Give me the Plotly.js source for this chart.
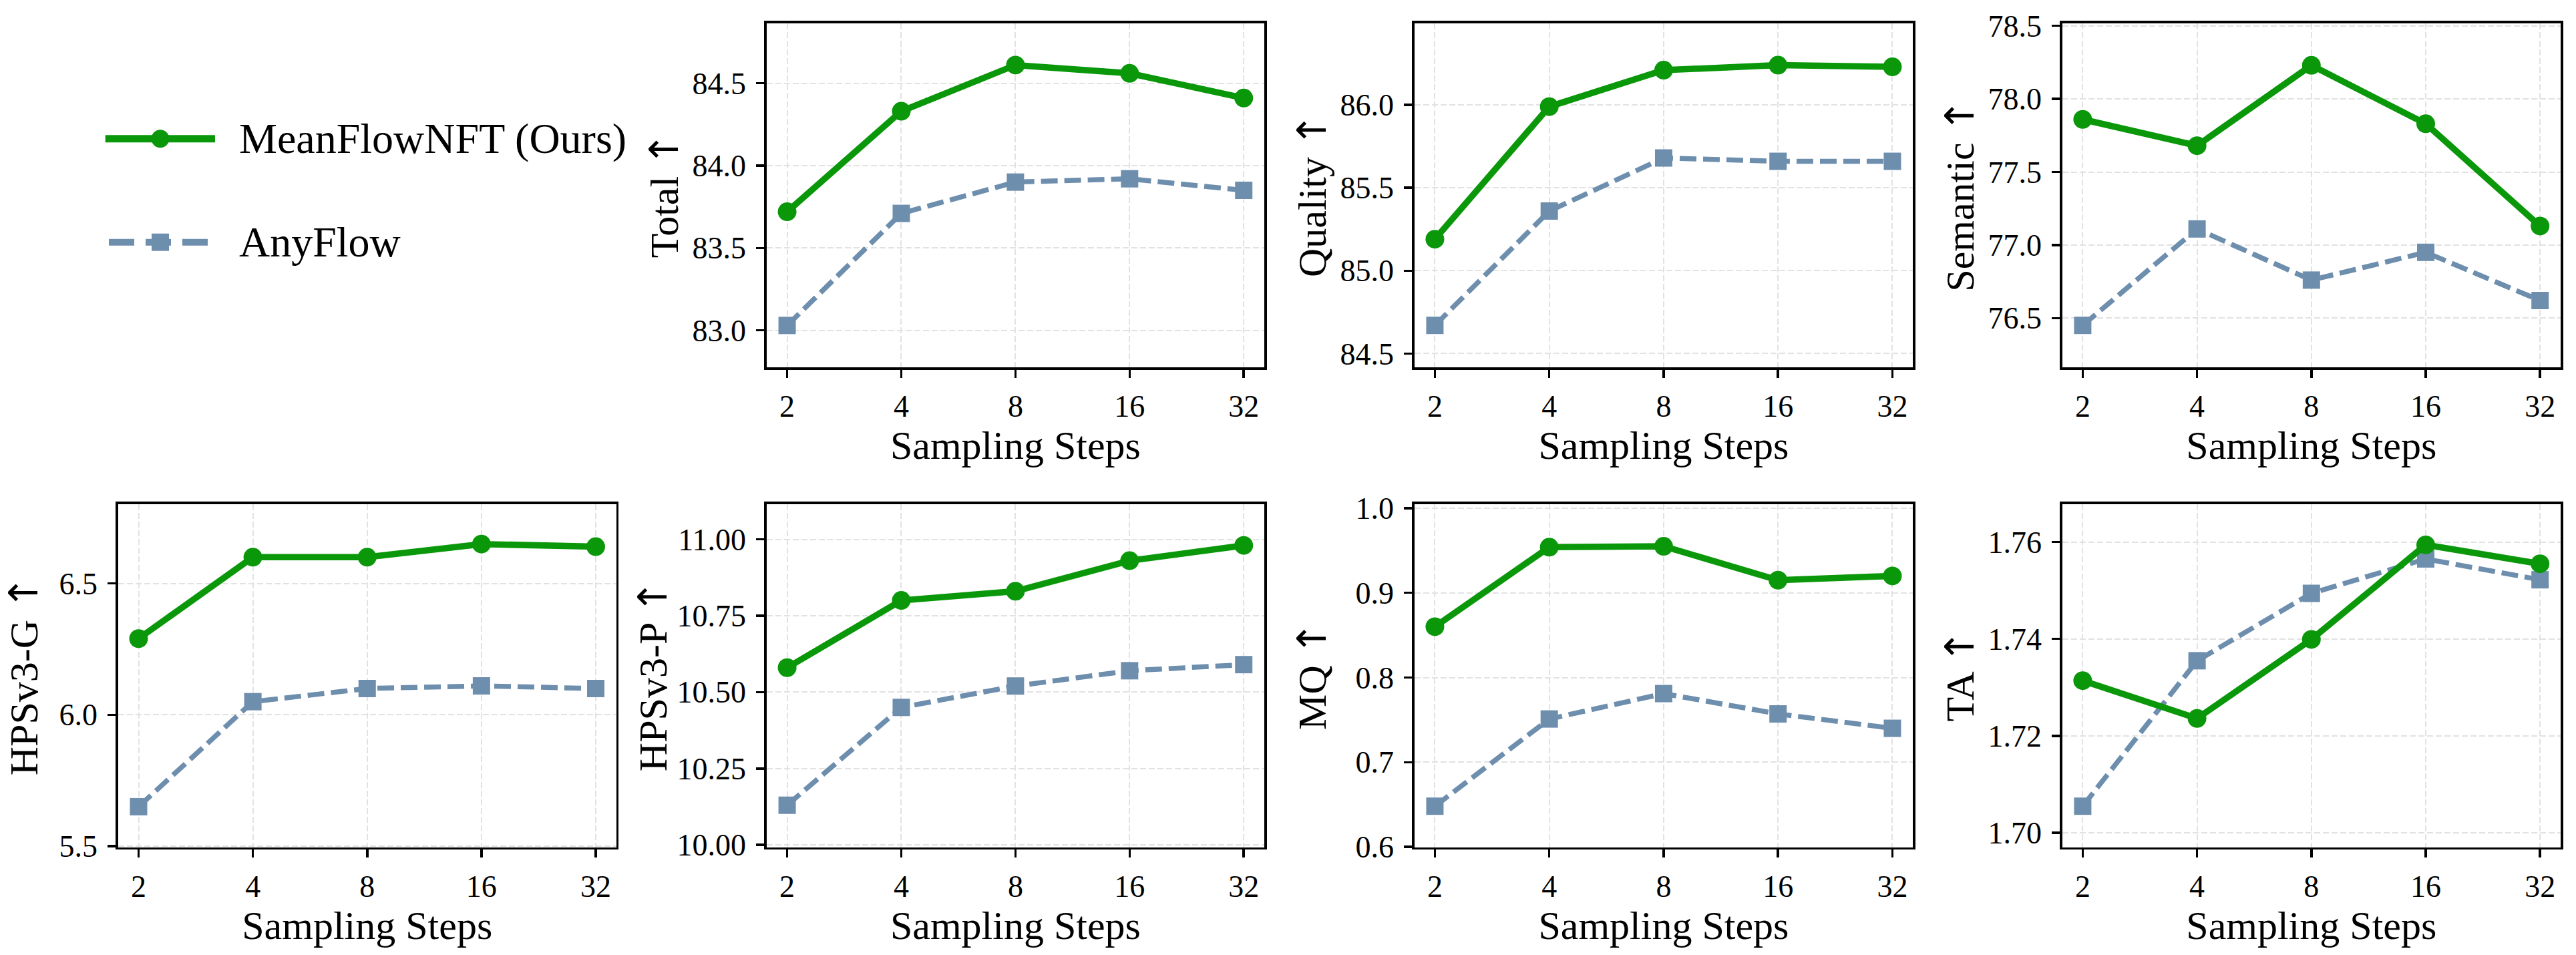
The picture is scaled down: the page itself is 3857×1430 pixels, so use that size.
<!DOCTYPE html>
<html>
<head>
<meta charset="utf-8">
<script src="https://cdn.plot.ly/plotly-3.0.1.min.js"></script>
<style>
  html, body { margin: 0; padding: 0; background: #ffffff; }
  #chart { width: 3857px; height: 1430px; }
</style>
</head>
<body>
<div id="chart"></div>
<script>
// Sampling steps shared by every panel
const steps = ['2', '4', '8', '16', '32'];

// Series names
const nameOurs = 'MeanFlowNFT (Ours)';
const nameBase = 'AnyFlow';

// VBench-style scores
const oursTotal = [83.72, 84.33, 84.61, 84.56, 84.41];
const baseTotal = [83.03, 83.71, 83.90, 83.92, 83.85];
const oursQuality = [85.19, 85.99, 86.21, 86.24, 86.23];
const baseQuality = [84.67, 85.36, 85.68, 85.66, 85.66];
const oursSemantic = [77.86, 77.68, 78.23, 77.83, 77.13];
const baseSemantic = [76.45, 77.11, 76.76, 76.95, 76.62];

// Preference / quality scores
const oursHpsG = [6.29, 6.60, 6.60, 6.65, 6.64];
const baseHpsG = [5.65, 6.05, 6.10, 6.11, 6.10];
const oursHpsP = [10.58, 10.80, 10.83, 10.93, 10.98];
const baseHpsP = [10.13, 10.45, 10.52, 10.57, 10.59];
const oursMQ = [0.860, 0.954, 0.955, 0.915, 0.920];
const baseMQ = [0.648, 0.751, 0.781, 0.757, 0.740];
const oursTA = [1.7314, 1.7236, 1.7399, 1.7594, 1.7555];
const baseTA = [1.7055, 1.7355, 1.7494, 1.7565, 1.7522];

// Axis titles (metric name followed by an "higher is better" arrow)
const metricNames = ['Total', 'Quality', 'Semantic', 'HPSv3-G', 'HPSv3-P', 'MQ', 'TA'];
const upArrow = '↑';
const xLabel = 'Sampling Steps';

// ---- figure geometry and styling ----
const W = 3857, H = 1430;
const FONT = 'Liberation Serif, Times New Roman, serif';
const ARROW_FONT = 'DejaVu Sans';
const GREEN = '#0a980a';
const BLUE = '#6e8eae';

const colPx = [[176.7, 922.8], [1147.8, 1893], [2117.6, 2864.3], [3087.6, 3834]];
const rowPx = [[34.8, 550], [754.9, 1268.9]];

const panels = [
  { ours: oursTotal,    base: baseTotal,    col: 1, row: 0, range: [82.776, 84.864], dtick: 0.5,  fmt: '.1f' },
  { ours: oursQuality,  base: baseQuality,  col: 2, row: 0, range: [84.417, 86.493], dtick: 0.5,  fmt: '.1f' },
  { ours: oursSemantic, base: baseSemantic, col: 3, row: 0, range: [76.163, 78.518], dtick: 0.5,  fmt: '.1f' },
  { ours: oursHpsG,     base: baseHpsG,     col: 0, row: 1, range: [5.495, 6.802],   dtick: 0.5,  fmt: '.1f' },
  { ours: oursHpsP,     base: baseHpsP,     col: 1, row: 1, range: [9.992, 11.115],  dtick: 0.25, fmt: '.2f' },
  { ours: oursMQ,       base: baseMQ,       col: 2, row: 1, range: [0.5993, 1.0048], dtick: 0.1,  fmt: '.1f' },
  { ours: oursTA,       base: baseTA,       col: 3, row: 1, range: [1.697, 1.7678],  dtick: 0.02, fmt: '.2f' }
];

const traces = [];
const layout = {
  width: W, height: H,
  margin: { l: 0, r: 0, t: 0, b: 0, pad: 0 },
  paper_bgcolor: '#ffffff',
  plot_bgcolor: '#ffffff',
  showlegend: false,
  font: { family: FONT, color: '#000000', size: 46 },
  shapes: [],
  annotations: []
};

const axisCommon = {
  showline: true, mirror: true, linecolor: '#000000', linewidth: 3.5,
  ticks: 'outside', ticklen: 12, tickwidth: 3.5, tickcolor: '#000000',
  showgrid: true, gridcolor: '#e2e2e2', gridwidth: 2, griddash: '9px,4px',
  zeroline: false,
  tickfont: { family: FONT, size: 46, color: '#000000' }
};

panels.forEach((p, i) => {
  const n = i + 1;
  const xa = 'xaxis' + (n === 1 ? '' : n);
  const ya = 'yaxis' + (n === 1 ? '' : n);
  const xr = 'x' + (n === 1 ? '' : n);
  const yr = 'y' + (n === 1 ? '' : n);
  const cx = colPx[p.col], ry = rowPx[p.row];

  layout[xa] = Object.assign({}, axisCommon, {
    domain: [cx[0] / W, cx[1] / W],
    anchor: yr,
    type: 'category',
    categoryorder: 'array', categoryarray: steps,
    range: [-0.18, 4.18],
    ticklabelstandoff: 3,
    automargin: true,
    title: { text: xLabel, font: { family: FONT, size: 60, color: '#000000' }, standoff: 0 }
  });
  layout[ya] = Object.assign({}, axisCommon, {
    domain: [1 - ry[1] / H, 1 - ry[0] / H],
    anchor: xr,
    range: p.range,
    dtick: p.dtick, tick0: 0, tickformat: p.fmt,
    ticklabelstandoff: 6,
    title: {
      text: metricNames[i] + ' <span style="font-family:' + ARROW_FONT + '">' + upArrow + '</span>',
      font: { family: FONT, size: 60, color: '#000000' }
    }
  });

  traces.push({
    x: steps, y: p.base, xaxis: xr, yaxis: yr, name: nameBase,
    type: 'scatter', mode: 'lines+markers', cliponaxis: false,
    line: { color: BLUE, width: 7.5, dash: '25px,10px' },
    marker: { symbol: 'square', size: 26, color: BLUE }
  });
  traces.push({
    x: steps, y: p.ours, xaxis: xr, yaxis: yr, name: nameOurs,
    type: 'scatter', mode: 'lines+markers', cliponaxis: false,
    line: { color: GREEN, width: 9.5 },
    marker: { symbol: 'circle', size: 28, color: GREEN }
  });
});

// ---- legend key in the empty top-left cell ----
const px = v => v / W;
const py = v => 1 - v / H;
const legendRows = [
  { y: 207.7, name: nameOurs, color: GREEN, dash: 'solid', width: 11, x0: 157.7, x1: 322, marker: 'circle', ms: 27 },
  { y: 362.7, name: nameBase, color: BLUE, dash: '38px,17px', width: 10, x0: 163, x1: 312, marker: 'square', ms: 26 }
];
legendRows.forEach(r => {
  layout.shapes.push({
    type: 'line', xref: 'paper', yref: 'paper',
    x0: px(r.x0), x1: px(r.x1), y0: py(r.y), y1: py(r.y),
    line: { color: r.color, width: r.width, dash: r.dash }
  });
  const cxm = 240, h = r.ms / 2;
  layout.shapes.push({
    type: r.marker === 'circle' ? 'circle' : 'rect', xref: 'paper', yref: 'paper',
    x0: px(cxm - h), x1: px(cxm + h), y0: py(r.y + h), y1: py(r.y - h),
    fillcolor: r.color, line: { width: 0 }
  });
  layout.annotations.push({
    xref: 'paper', yref: 'paper', x: px(356), y: py(r.y),
    xanchor: 'left', yanchor: 'middle', showarrow: false,
    text: r.name, font: { family: FONT, size: 64, color: '#000000' }
  });
});

Plotly.newPlot('chart', traces, layout, { staticPlot: true, displayModeBar: false });
</script>
</body>
</html>
